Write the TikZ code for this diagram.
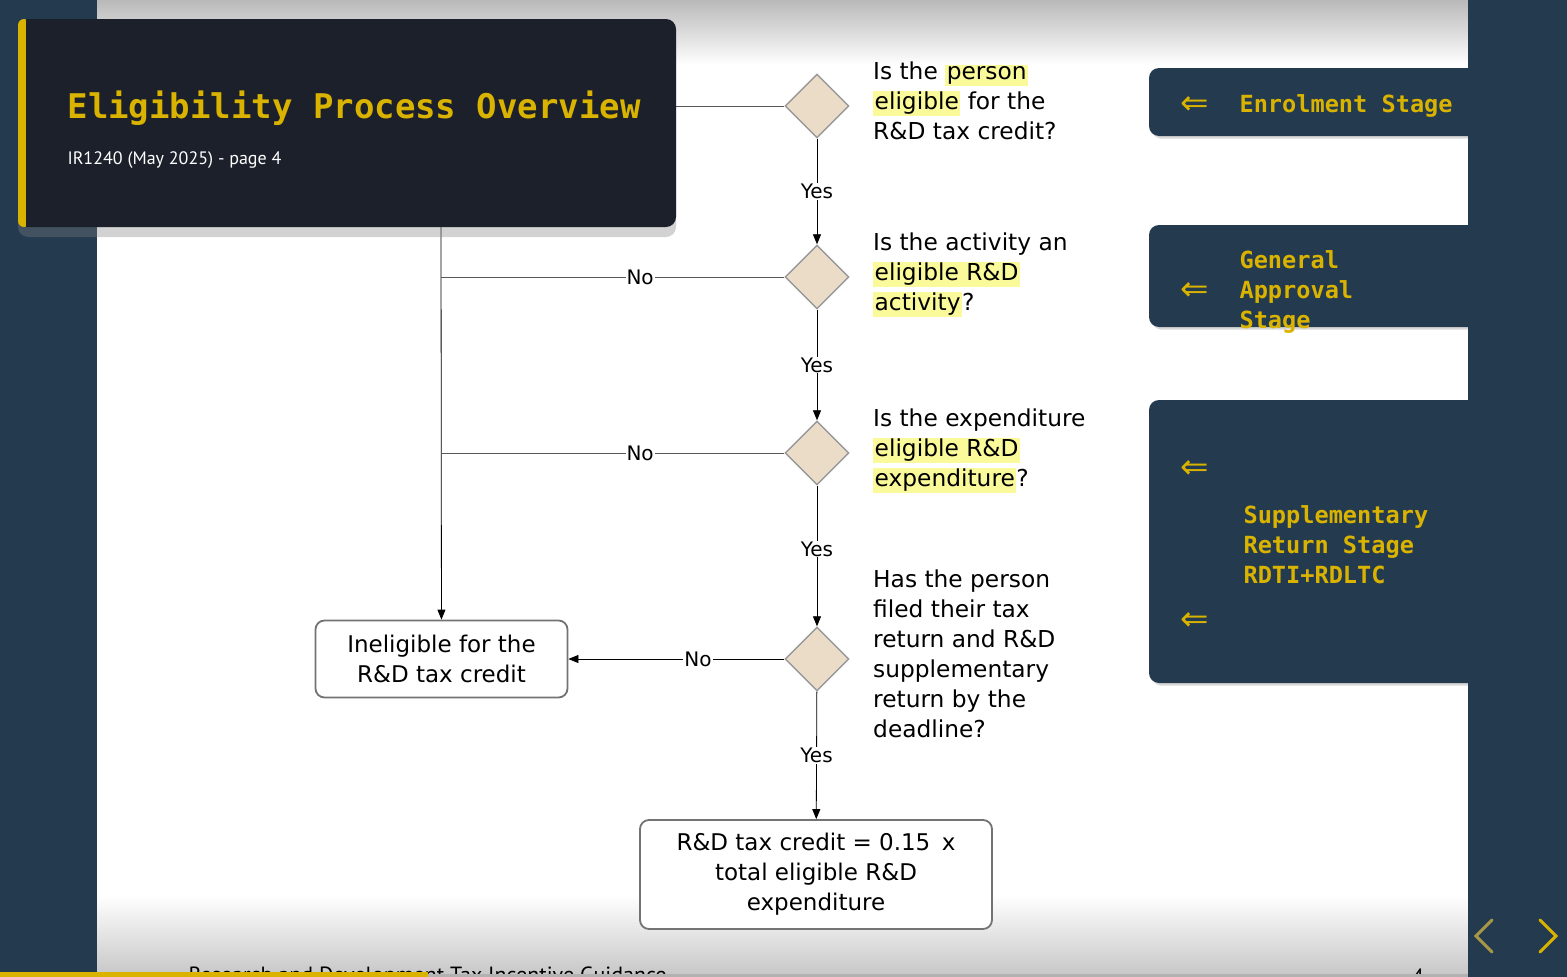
\documentclass[tikz,border=0pt]{standalone}
\usepackage{fontspec}
\setmainfont{DejaVu Sans}
\newfontfamily\monob{DejaVu Sans Mono}[BoldFont={DejaVu Sans Mono Bold}]
\newfontfamily\subfont{PT Sans}
\usetikzlibrary{shapes.geometric, arrows.meta, positioning, shadows}
\definecolor{navy}{HTML}{233A4F}
\definecolor{cardbg}{HTML}{1B202B}
\definecolor{gold}{HTML}{D9B300}
\definecolor{hlyellow}{HTML}{FAFA9A}
\definecolor{diafill}{HTML}{EBDCC8}
\newcommand\hl[1]{{\setlength\fboxsep{1.5pt}\colorbox{hlyellow}{#1}}}
\tikzset{
  decision/.style={diamond, draw=gray!80, fill=diafill, line width=1.4pt, minimum width=64pt, minimum height=64pt, inner sep=0pt},
  outcome/.style={draw=gray!90!black, line width=1.8pt, rounded corners=9pt, fill=white, align=center, font=\fontsize{23}{30}\selectfont},
  question/.style={anchor=north west, align=left, font=\fontsize{23.3}{30}\selectfont, inner sep=0pt},
  flow/.style={draw=gray!70!black, line width=0.8pt},
  arrow/.style={flow, -{Triangle[length=10pt,width=8pt]}, black},
  lbl/.style={fill=white, inner sep=1pt, font=\fontsize{20}{22}\selectfont},
  stage/.style={fill=navy, rounded corners=10pt, drop shadow={opacity=0.3}},
  stagetxt/.style={text=gold, font=\monob\bfseries\fontsize{23.6}{30}\selectfont, align=left, anchor=west},
  larrow/.style={text=gold, font=\fontsize{34}{34}\selectfont},
  chevron/.style={line width=3pt, line cap=round}
}
\begin{document}
\begin{tikzpicture}[x=1pt,y=-1pt]
\useasboundingbox (0,0) rectangle (1567,977);
% background
\fill[white] (97,0) rectangle (1468,977);
\shade[top color=gray!55, bottom color=white] (97,0) rectangle (1468,65);
\shade[top color=white, bottom color=gray!45] (97,895) rectangle (1468,977);
\fill[navy] (0,0) rectangle (97,977);
\node[anchor=west, font=\subfont\fontsize{22}{22}\selectfont] (footer) at (185,977) {Research and Development Tax Incentive Guidance};
\node[font=\subfont\fontsize{22}{22}\selectfont] (pagenum) at (1418,977) {4};
\fill[white] (0,977) rectangle (1567,990);
\fill[gold] (0,972) rectangle (428,977);
\fill[gray!60] (428,974) rectangle (1567,977);

% decisions
\node[decision] (d1) at (817,106) {};
\node[decision] (d2) at (817,277) {};
\node[decision] (d3) at (817,453) {};
\node[decision] (d4) at (817,659) {};
\node[outcome, minimum width=252pt, minimum height=77pt] (inel) at (441.5,659) {Ineligible for the\\R\&D tax credit};
\node[outcome, minimum width=352pt, minimum height=109pt] (credit) at (816,874.5) {R\&D tax credit = 0.15\enspace x\\total eligible R\&D\\expenditure};
\coordinate (join) at (441,227);
\coordinate (start) at (676,106);

% connectors
\draw[flow] (start) -- (d1);
\draw[arrow] (d1) -- node[lbl, pos=0.5]{Yes} (d2);
\draw[arrow] (d2) -- node[lbl, pos=0.5]{Yes} (d3);
\draw[arrow] (d3) -- node[lbl, pos=0.45]{Yes} (d4);
\draw[arrow] (d4) -- node[lbl, pos=0.5]{Yes} (credit);
\draw[arrow] (join) -- (inel);
\draw[flow] (d2) -- node[lbl, pos=0.42]{No} (join |- d2);
\draw[flow] (d3) -- node[lbl, pos=0.42]{No} (join |- d3);
\draw[arrow] (d4) -- node[lbl, pos=0.4]{No} (inel);

% questions
\node[question] (q1) at (873,62) {Is the \hl{person}\\\hl{eligible} for the\\R\&D tax credit?};
\node[question] (q2) at (873,233) {Is the activity an\\\hl{eligible R\&D}\\\hl{activity}?};
\node[question] (q3) at (873,409) {Is the expenditure\\\hl{eligible R\&D}\\\hl{expenditure}?};
\node[question] (q4) at (873,570) {Has the person\\filed their tax\\return and R\&D\\supplementary\\return by the\\deadline?};

% header card
\fill[cardbg, rounded corners=10pt, drop shadow={opacity=0.35, shadow xshift=0pt, shadow yshift=-10pt}] (18,19) rectangle (676,227);
\fill[gold, rounded corners=6pt] (18,19) rectangle (30,227);
\fill[cardbg] (26,19) rectangle (40,227);
\node[anchor=west, text=gold, font=\monob\bfseries\fontsize{34}{34}\selectfont] (title) at (64,108) {Eligibility Process Overview};
\node[anchor=west, text=white, font=\subfont\fontsize{18}{18}\selectfont] (subtitle) at (64,160) {IR1240 (May 2025) - page 4};

% stage panels
\fill[stage] (1149,68) rectangle (1490,136);
\fill[stage] (1149,225) rectangle (1490,327);
\fill[stage] (1149,400) rectangle (1490,683);
\fill[navy] (1468,0) rectangle (1567,977);
\node[larrow] (a1) at (1195,106) {⇐};
\node[stagetxt] (s1) at (1236,106) {Enrolment Stage};
\node[larrow] (a2) at (1195,292) {⇐};
\node[stagetxt] (s2) at (1236,292) {General\\Approval\\Stage};
\node[larrow] (a3) at (1195,470) {⇐};
\node[larrow] (a4) at (1195,622) {⇐};
\node[stagetxt] (s3) at (1240,545) {Supplementary\\Return Stage\\RDTI+RDLTC};

% navigation
\coordinate (prevtop) at (1492,920);
\coordinate (prevmid) at (1476,936);
\coordinate (prevbot) at (1492,952);
\draw[chevron, gold!45!gray] (prevtop) -- (prevmid) -- (prevbot);
\coordinate (nexttop) at (1540,920);
\coordinate (nextmid) at (1556,936);
\coordinate (nextbot) at (1540,952);
\draw[chevron, gold] (nexttop) -- (nextmid) -- (nextbot);
\end{tikzpicture}
\end{document}
